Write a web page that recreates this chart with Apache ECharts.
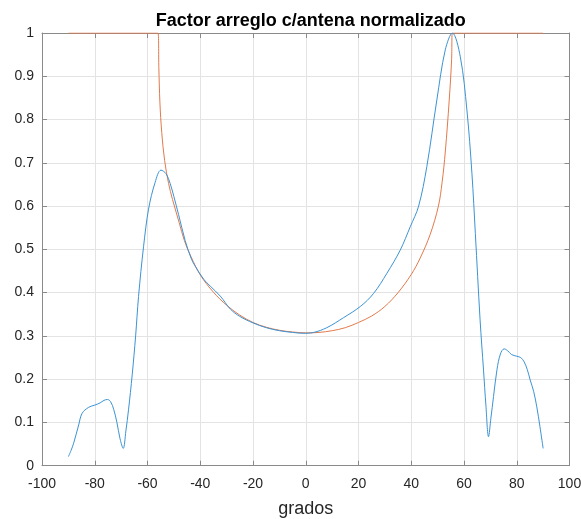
<!DOCTYPE html>
<html>
<head>
<meta charset="utf-8">
<script src="https://cdn.jsdelivr.net/npm/echarts@6/dist/echarts.min.js"></script>
<style>
  html, body { margin: 0; padding: 0; background: #fff; }
  #chart { width: 581px; height: 519px; }
</style>
</head>
<body>
<div id="chart"></div>
<script>
// Angle (degrees) and normalized array factor including the element pattern
const blueAngles = [-90, -89, -88, -86.1, -84.8, -82.3, -80, -78, -76.5, -75.2, -74, -72.8, -71.6, -70.4, -69.2, -68.2, -67.2, -65.8, -64.5, -63.4, -61.5, -59.6, -57.1, -54.9, -53, -51.4, -50, -48.2, -45.7, -43.5, -41.9, -38.7, -36.2, -32.4, -28.6, -25, -20, -15, -10, -5, -1, 3, 8, 14.3, 20.7, 25.7, 30.8, 35.8, 39.6, 42.8, 45.9, 49.7, 52.9, 55.6, 58.6, 61.1, 63, 64.3, 66.1, 67.4, 68.3, 69.3, 70.2, 71.2, 72.5, 73.8, 75.2, 76.5, 78, 80, 81.5, 82.8, 84, 85.1, 86.4, 87.6, 88.8, 90];
const blueValues = [0.021, 0.035, 0.052, 0.094, 0.121, 0.135, 0.140, 0.145, 0.151, 0.153, 0.148, 0.13, 0.1, 0.062, 0.04, 0.08, 0.129, 0.21, 0.3, 0.391, 0.506, 0.593, 0.655, 0.683, 0.675, 0.652, 0.622, 0.58, 0.52, 0.48, 0.461, 0.431, 0.415, 0.392, 0.362, 0.345, 0.33, 0.319, 0.312, 0.308, 0.306, 0.308, 0.319, 0.342, 0.368, 0.398, 0.445, 0.498, 0.552, 0.6, 0.691, 0.845, 0.961, 1.0, 0.945, 0.822, 0.676, 0.537, 0.337, 0.221, 0.14, 0.067, 0.11, 0.16, 0.222, 0.258, 0.27, 0.266, 0.257, 0.253, 0.25, 0.24, 0.222, 0.198, 0.172, 0.136, 0.09, 0.04];

// Angle (degrees) and normalized ideal array factor, clipped at 1
const redAngles = [-90, -56, -55.7, -55.3, -54.6, -53.5, -52, -50.5, -48, -46, -43.5, -40, -35, -30, -25, -20, -15, -10, -5, 0, 5, 10, 15, 20, 25, 30, 35, 40, 43.4, 47.2, 50.3, 51.7, 52.9, 54.4, 55.3, 55.6, 90];
const redValues = [1, 1, 0.92, 0.84, 0.77, 0.705, 0.652, 0.615, 0.562, 0.52, 0.483, 0.441, 0.401, 0.371, 0.348, 0.331, 0.32, 0.313, 0.309, 0.307, 0.308, 0.312, 0.319, 0.331, 0.346, 0.368, 0.4, 0.442, 0.48, 0.535, 0.6, 0.655, 0.725, 0.845, 0.938, 1, 1];

const xTicks = { min: -100, max: 100, interval: 20 };
const yTicks = { min: 0, max: 1, interval: 0.1 };

const zip = (xs, ys) => xs.map((x, i) => [x, ys[i]]);

const axisColor = '#8a8a8a';
const labelColor = '#262626';
const font = 'Liberation Sans, Arial, Helvetica, sans-serif';
const plot = { left: 42, right: 11.5, top: 33, bottom: 53.3 };
const plotCenterX = plot.left + (581 - plot.left - plot.right) / 2;

const chart = echarts.init(document.getElementById('chart'), null, { renderer: 'canvas' });
chart.setOption({
  animation: false,
  backgroundColor: '#fff',
  title: {
    text: 'Factor arreglo c/antena normalizado',
    left: plotCenterX,
    textAlign: 'center',
    top: 7,
    textStyle: { fontFamily: font, fontSize: 18, fontWeight: 'bold', color: '#000' }
  },
  grid: {
    left: plot.left, right: plot.right, top: plot.top, bottom: plot.bottom,
    containLabel: false, outerBoundsMode: 'none'
  },
  xAxis: [{
    type: 'value', min: xTicks.min, max: xTicks.max, interval: xTicks.interval,
    position: 'bottom',
    name: 'grados', nameLocation: 'middle', nameGap: 34,
    nameTextStyle: { fontFamily: font, fontSize: 18, color: labelColor },
    axisLine: { onZero: false, lineStyle: { color: axisColor, width: 1 } },
    axisTick: { inside: true, length: 5, lineStyle: { color: axisColor } },
    axisLabel: { fontFamily: font, fontSize: 14, color: labelColor, margin: 11 },
    splitLine: { show: true, lineStyle: { color: '#e3e3e3', width: 1 } }
  }, {
    type: 'value', min: xTicks.min, max: xTicks.max, interval: xTicks.interval,
    position: 'top',
    axisLine: { onZero: false, lineStyle: { color: axisColor, width: 1 } },
    axisTick: { inside: true, length: 5, lineStyle: { color: axisColor } },
    axisLabel: { show: false },
    splitLine: { show: false }
  }],
  yAxis: [{
    type: 'value', min: yTicks.min, max: yTicks.max, interval: yTicks.interval,
    position: 'left',
    axisLine: { show: true, onZero: false, lineStyle: { color: axisColor, width: 1 } },
    axisTick: { show: true, inside: true, length: 5, lineStyle: { color: axisColor } },
    axisLabel: { fontFamily: font, fontSize: 14, color: labelColor, margin: 8 },
    splitLine: { show: true, lineStyle: { color: '#e3e3e3', width: 1 } }
  }, {
    type: 'value', min: yTicks.min, max: yTicks.max, interval: yTicks.interval,
    position: 'right',
    axisLine: { show: true, onZero: false, lineStyle: { color: axisColor, width: 1 } },
    axisTick: { show: true, inside: true, length: 5, lineStyle: { color: axisColor } },
    axisLabel: { show: false },
    splitLine: { show: false }
  }],
  series: [{
    type: 'line',
    data: zip(redAngles, redValues),
    xAxisIndex: 0, yAxisIndex: 0,
    showSymbol: false,
    smooth: 0.35,
    lineStyle: { color: '#e2794b', width: 1 },
    z: 2
  }, {
    type: 'line',
    data: zip(blueAngles, blueValues),
    xAxisIndex: 0, yAxisIndex: 0,
    showSymbol: false,
    smooth: 0.35,
    lineStyle: { color: '#3b93d3', width: 1 },
    z: 3
  }]
});
</script>
</body>
</html>
